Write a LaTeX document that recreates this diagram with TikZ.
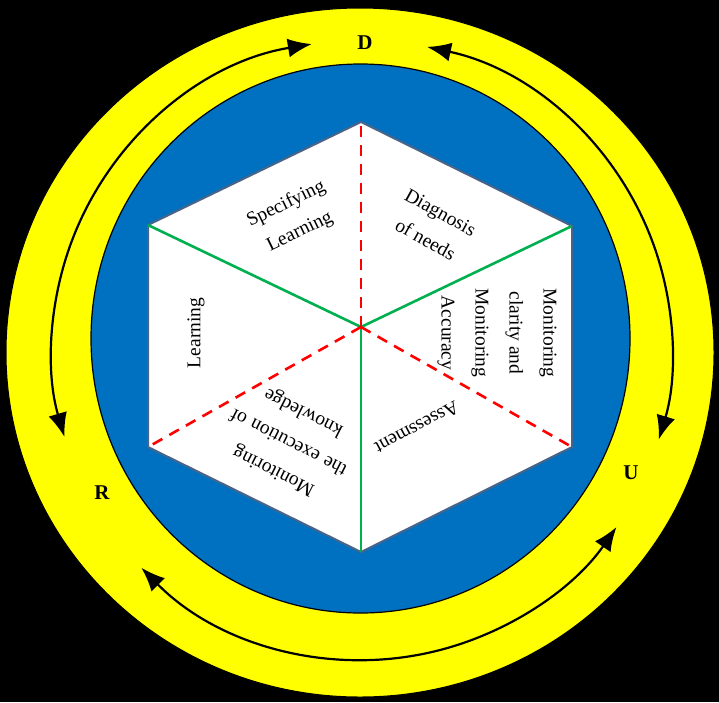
\documentclass[tikz,border=0pt]{standalone}
\usepackage{fontspec}
\setmainfont{Liberation Serif}
\usetikzlibrary{arrows.meta}
\definecolor{ringyellow}{HTML}{FFFF00}
\definecolor{discblue}{HTML}{0070C0}
\definecolor{hexedge}{HTML}{4A6488}
\definecolor{cubegreen}{HTML}{00B050}
\definecolor{cubered}{HTML}{FF0000}
\tikzset{
  greenline/.style={cubegreen, line width=2.6pt},
  redline/.style={cubered, line width=2.6pt, dash pattern=on 11pt off 8pt},
  facetext/.style={font=\fontsize{19.5}{31}\selectfont, align=center, inner sep=0pt},
  ringarrow/.style={black, line width=2.2pt, {Latex[length=24pt,width=19pt]}-{Latex[length=24pt,width=19pt]}},
  ringletter/.style={font=\fontsize{21}{24}\selectfont\bfseries, inner sep=0pt}
}
\begin{document}
\begin{tikzpicture}[x=1pt,y=-1pt]
\useasboundingbox (0,0) rectangle (719,702);
\fill[black] (0,0) rectangle (719,702);
% rings
\draw[black, line width=1pt, fill=ringyellow] (360,352.5) ellipse [x radius=354, y radius=344.5];
\draw[black, line width=1.2pt, fill=discblue] (360.5,338.5) ellipse [x radius=269.5, y radius=274.5];
% hexagon
\coordinate (T) at (361,122);
\coordinate (UR) at (572,226);
\coordinate (LR) at (572,447);
\coordinate (B) at (361,552);
\coordinate (LL) at (148,447);
\coordinate (UL) at (148,225);
\coordinate (C) at (361,327);
\draw[hexedge, line width=2pt, fill=white, line join=miter] (T) -- (UR) -- (LR) -- (B) -- (LL) -- (UL) -- cycle;
\draw[greenline] (UL) -- (C);
\draw[greenline] (UR) -- (C);
\draw[greenline] (B) -- (C);
\draw[redline] (C) -- (T);
\draw[redline] (C) -- (LL);
\draw[redline] (C) -- (LR);
% face texts
\node[facetext, rotate=26] (spec) at (293,218) {Specifying\\Learning};
\node[facetext, rotate=-29] (diag) at (433,226) {Diagnosis\\of needs};
\node[facetext, rotate=-90, font=\fontsize{19.5}{34}\selectfont] (monc) at (497,333) {Monitoring\\clarity and\\Monitoring\\Accuracy};
\node[facetext, rotate=90] (learn) at (196,333) {Learning};
\node[facetext, rotate=208] (assess) at (417,428) {Assessment};
\node[facetext, rotate=153, font=\fontsize{19.5}{33}\selectfont] (monk) at (289,441) {Monitoring\\the\hspace{6pt}execution\hspace{6pt}of\\knowledge};
% ring letters
\node[ringletter] (D) at (365,43) {D};
\node[ringletter] (R) at (102,493) {R};
\node[ringletter] (U) at (631,473) {U};
% ring arrows
\begin{scope}[shift={(362,350)}, y=1pt]
\coordinate (a1) at (99.3:310);
\coordinate (a2) at (77.9:310);
\coordinate (a3) at (224.6:310);
\draw[ringarrow] (a1) arc[start angle=99.3, end angle=196.3, radius=310];
\draw[ringarrow] (a2) arc[start angle=77.9, end angle=-16.8, radius=310];
\draw[ringarrow] (a3) arc[start angle=224.6, end angle=325.2, radius=310];
\end{scope}
\end{tikzpicture}
\end{document}
